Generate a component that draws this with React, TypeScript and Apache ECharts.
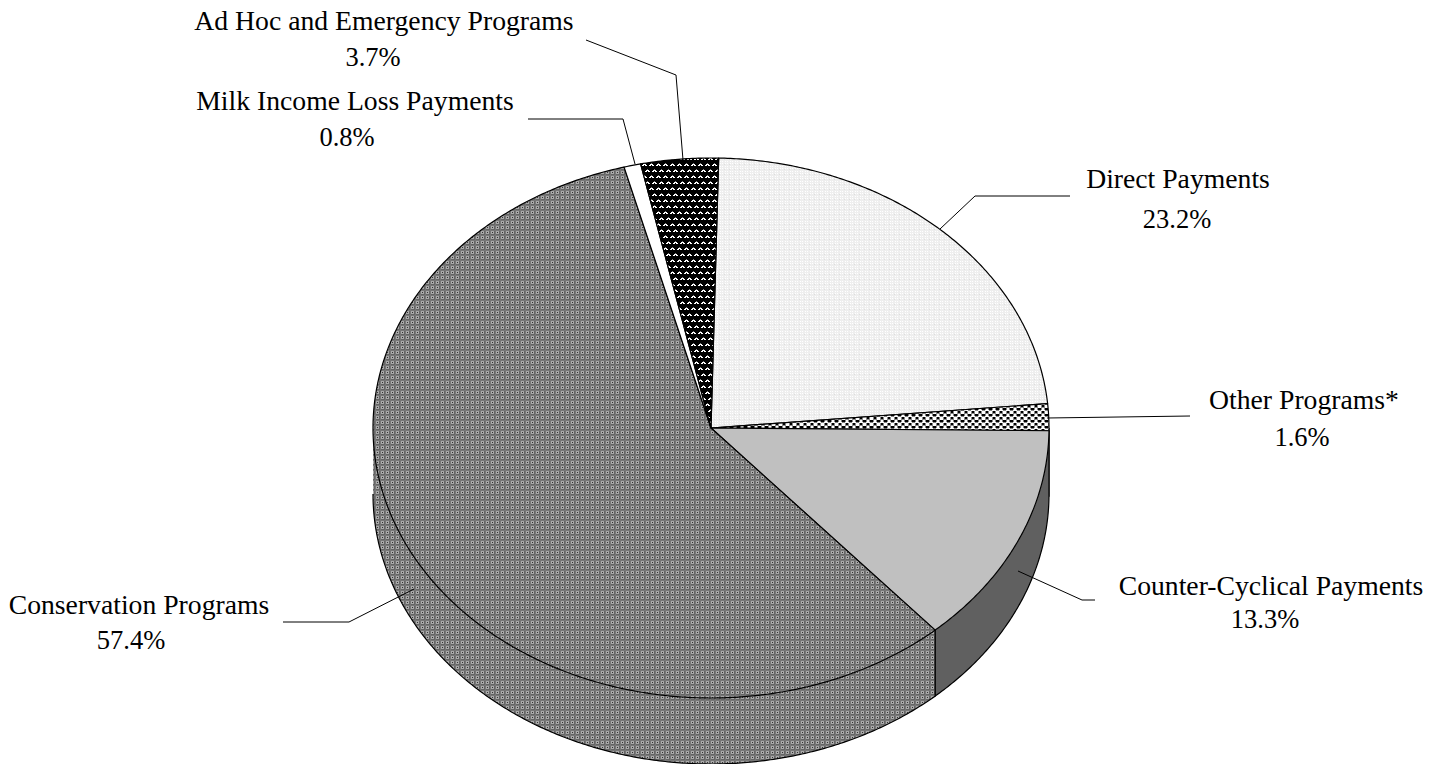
import React, { useEffect, useRef } from "react";
import * as echarts from "echarts";

const categories = [
  "Direct Payments",
  "Other Programs*",
  "Counter-Cyclical Payments",
  "Conservation Programs",
  "Milk Income Loss Payments",
  "Ad Hoc and Emergency Programs",
];
const shares = [23.2, 1.6, 13.3, 57.4, 0.8, 3.7];

// Pie geometry (ellipse seen in perspective)
const CX = 711;
const CY = 428;
const RX = 338;
const RY = 270;
const DEPTH = 66;
const START_DEG = 1.3;
const FONT_SIZE = 26.5;
const NAME_STRETCH = 1.045;

// Pixel tiles: every character is a grey level (hex digit x 17)
const TILE_DIRECT = ["eeeee", "fefee", "eeeee", "fefee", "eeeed"];
const TILE_OTHER = ["f80008f", "f80008f", "ff888ff", "08fff80", "08fff80", "88fff88"];
const TILE_CONSERVATION = ["77777", "7aaa6", "7a3a6", "7aaa6", "76666"];
const TILE_ADHOC = [
  "0000000",
  "0008000",
  "00fff00",
  "0ff0ff0",
  "0000000",
  "0000000",
  "0000000",
  "8000000",
  "ff0000f",
  "0ff00ff",
  "0000000",
  "0000000",
];

function tile(rows: string[]) {
  const c = document.createElement("canvas");
  c.width = rows[0].length;
  c.height = rows.length;
  const g = c.getContext("2d")!;
  rows.forEach((r, y) => {
    for (let x = 0; x < r.length; x++) {
      const v = parseInt(r[x], 16) * 17;
      g.fillStyle = `rgb(${v},${v},${v})`;
      g.fillRect(x, y, 1, 1);
    }
  });
  return { image: c, repeat: "repeat" };
}

// Label and leader layout, by category
const layout: Record<string, any> = {
  "Direct Payments": { nameX: 1178, pctX: 1177, nameY: 179, pctY: 219, line: [[940, 229], [975, 196], [1070, 196]] },
  "Other Programs*": { nameX: 1304, pctX: 1302, nameY: 400, pctY: 437, line: [[1047, 418], [1190, 416]] },
  "Counter-Cyclical Payments": { nameX: 1271, pctX: 1265, nameY: 586, pctY: 619, line: [[1018, 571], [1082, 600], [1095, 600]] },
  "Conservation Programs": { nameX: 139, pctX: 131, nameY: 605, pctY: 640, line: [[283, 622], [349, 622], [414, 589]] },
  "Milk Income Loss Payments": { nameX: 355, pctX: 347, nameY: 101, pctY: 137, line: [[528, 119], [623, 119], [635, 164]] },
  "Ad Hoc and Emergency Programs": { nameX: 384, pctX: 373, nameY: 21, pctY: 57, line: [[586, 40], [676, 75], [683, 160]] },
};

function pt(deg: number, dy = 0): number[] {
  const a = (deg * Math.PI) / 180;
  return [CX + RX * Math.sin(a), CY - RY * Math.cos(a) + dy];
}

function arc(a: number, b: number, dy = 0): number[][] {
  const pts: number[][] = [];
  const n = Math.max(2, Math.ceil((b - a) * 2));
  for (let i = 0; i <= n; i++) pts.push(pt(a + ((b - a) * i) / n, dy));
  return pts;
}

function sliceRange(i: number): [number, number] {
  const before = shares.slice(0, i).reduce((s, v) => s + v, 0);
  const total = shares.reduce((s, v) => s + v, 0);
  return [START_DEG + (before / total) * 360, START_DEG + ((before + shares[i]) / total) * 360];
}

export default function App() {
  const ref = useRef<HTMLDivElement>(null);

  useEffect(() => {
    document.body.style.margin = "0";
    document.body.style.overflow = "hidden";
    const chart = echarts.init(ref.current!, null, { renderer: "svg" });

    const topFills: any[] = [
      tile(TILE_DIRECT),
      tile(TILE_OTHER),
      "#c0c0c0",
      tile(TILE_CONSERVATION),
      "#ffffff",
      tile(TILE_ADHOC),
    ];
    const wallFills: any[] = ["#ffffff", "#ffffff", "#606060", tile(TILE_CONSERVATION), "#ffffff", "#ffffff"];

    const renderWall = (params: any) => {
      const [s, e] = sliceRange(params.dataIndex);
      const a = Math.max(s, 90);
      const b = Math.min(e, 270);
      if (b <= a) return { type: "group", children: [] };
      const bottom = arc(a, b, DEPTH);
      const edge = [pt(a), ...bottom];
      if (b < 270) edge.push(pt(b));
      return {
        type: "group",
        children: [
          {
            type: "polygon",
            shape: { points: [...arc(a, b), ...bottom.slice().reverse()] },
            style: { fill: wallFills[params.dataIndex], stroke: "none" },
          },
          {
            type: "polyline",
            shape: { points: edge },
            style: { fill: "none", stroke: "#000000", lineWidth: 1.2 },
          },
        ],
      };
    };

    const renderTop = (params: any) => {
      const [s, e] = sliceRange(params.dataIndex);
      return {
        type: "polygon",
        shape: { points: [[CX, CY], ...arc(s, e)] },
        style: { fill: topFills[params.dataIndex], stroke: "#000000", lineWidth: 1.2, lineJoin: "round" },
      };
    };

    const textEl = (text: string, x: number, y: number, scaleX = 1) => ({
      type: "text",
      x,
      y,
      scaleX,
      z: 10,
      style: {
        text,
        fill: "#000000",
        font: `${FONT_SIZE}px "Liberation Serif", "Times New Roman", serif`,
        textAlign: "center",
        textVerticalAlign: "middle",
      },
    });

    const graphics: any[] = [];
    categories.forEach((name, i) => {
      const l = layout[name];
      graphics.push({
        type: "polyline",
        z: 9,
        shape: { points: l.line },
        style: { fill: "none", stroke: "#000000", lineWidth: 1 },
      });
      graphics.push(textEl(name, l.nameX, l.nameY, NAME_STRETCH));
      graphics.push(textEl(`${shares[i].toFixed(1)}%`, l.pctX, l.pctY));
    });

    chart.setOption({
      animation: false,
      backgroundColor: "#ffffff",
      tooltip: { show: false },
      series: [
        {
          type: "custom",
          coordinateSystem: "none",
          silent: true,
          z: 1,
          data: shares,
          renderItem: renderWall,
        },
        {
          type: "custom",
          coordinateSystem: "none",
          silent: true,
          z: 2,
          data: shares,
          renderItem: renderTop,
        },
      ],
      graphic: graphics,
    });

    return () => chart.dispose();
  }, []);

  return <div ref={ref} style={{ width: 1444, height: 764 }} />;
}
